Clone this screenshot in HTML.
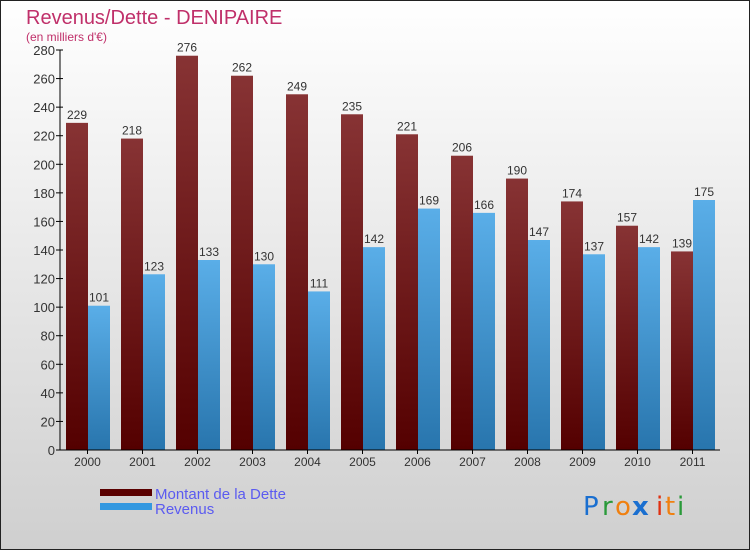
<!DOCTYPE html>
<html><head><meta charset="utf-8"><style>
body{margin:0}
svg{display:block;font-family:"Liberation Sans",sans-serif}
</style></head><body>
<svg id="c" width="750" height="550" xmlns="http://www.w3.org/2000/svg">
<defs>
<linearGradient id="bg" x1="0" y1="0" x2="0" y2="1"><stop offset="0" stop-color="#ffffff"/><stop offset="1" stop-color="#cfcfcf"/></linearGradient>
<linearGradient id="gd" x1="0" y1="0" x2="0" y2="1"><stop offset="0" stop-color="#873334"/><stop offset="1" stop-color="#540000"/></linearGradient>
<linearGradient id="gb" x1="0" y1="0" x2="0" y2="1"><stop offset="0" stop-color="#5aaee8"/><stop offset="1" stop-color="#2875ad"/></linearGradient>
</defs>
<rect x="0.5" y="0.5" width="749" height="549" fill="url(#bg)" stroke="#222"/>
<text x="26" y="24" font-size="20" fill="#c0306a">Revenus/Dette - DENIPAIRE</text>
<text x="26" y="41" font-size="12" fill="#c0306a">(en milliers d'€)</text>
<g id="grid"></g><g id="bars"></g><g id="axes"></g>
<rect x="100" y="489" width="52" height="7" fill="#5a0000"/>
<text x="155" y="499" font-size="15" fill="#5b5bf0">Montant de la Dette</text>
<rect x="100" y="503" width="52" height="7" fill="#3398e0"/>
<text x="155" y="514" font-size="15" fill="#5b5bf0">Revenus</text>
<g font-size="26" font-family="DejaVu Sans,sans-serif">
<text x="583" y="515" fill="#1a6fd0">P</text><text x="602" y="515" fill="#2a9a3a">r</text><text x="615" y="515" fill="#f08010">o</text><text x="632" y="515" fill="#1a6fd0" font-weight="bold">x</text><text x="656" y="515" fill="#e03010">i</text><text x="665" y="515" fill="#f08010">t</text><text x="677" y="515" fill="#2a9a3a">i</text>
</g>
</svg>
<script>
const years=["2000","2001","2002","2003","2004","2005","2006","2007","2008","2009","2010","2011"];
const debt=[229,218,276,262,249,235,221,206,190,174,157,139];
const revenus=[101,123,133,130,111,142,169,166,147,137,142,175];
const yTicks=[0,20,40,60,80,100,120,140,160,180,200,220,240,260,280];
const NS="http://www.w3.org/2000/svg";
const x0=60,gw=55,y0=450,ymax=280,ph=400;
const y=v=>y0-v/ymax*ph;
function mk(t,a,p){const e=document.createElementNS(NS,t);for(const k in a)e.setAttribute(k,a[k]);p.appendChild(e);return e;}
const axes=document.getElementById('axes'),bars=document.getElementById('bars');
mk('line',{x1:x0,y1:y0,x2:x0,y2:y(ymax),stroke:'#000'},axes);
mk('line',{x1:x0,y1:y0,x2:x0+gw*years.length,y2:y0,stroke:'#000'},axes);
yTicks.forEach(t=>{
 const l=mk('line',{x1:x0-4,x2:x0+3,y1:y(t),y2:y(t),stroke:'#000'},axes);
 
 
 const tx=mk('text',{x:x0-5,y:y(t)+5,'text-anchor':'end','font-size':13,fill:'#333'},axes);
 tx.textContent=t;
 
 
});
years.forEach((yr,i)=>{
 const gx=x0+i*gw;
 const tk=mk('line',{x1:gx+gw/2,x2:gx+gw/2,y1:y0,y2:y0+4,stroke:'#000'},axes);
 
 
 const xl=mk('text',{x:gx+gw/2,y:y0+16,'text-anchor':'middle','font-size':12,fill:'#333'},axes);
 xl.textContent=yr;
 
 
 [[debt[i],'url(#gd)',6,'debt'],[revenus[i],'url(#gb)',28,'revenus']].forEach(([v,f,o,n])=>{
  const r=mk('rect',{x:gx+o,y:y(v),width:22,height:y0-y(v),fill:f},bars);
  
  
  const t=mk('text',{x:gx+o+11,y:y(v)-4,'text-anchor':'middle','font-size':12,fill:'#333'},bars);
  t.textContent=v;
  
  
 });
});
</script>
</body></html>
